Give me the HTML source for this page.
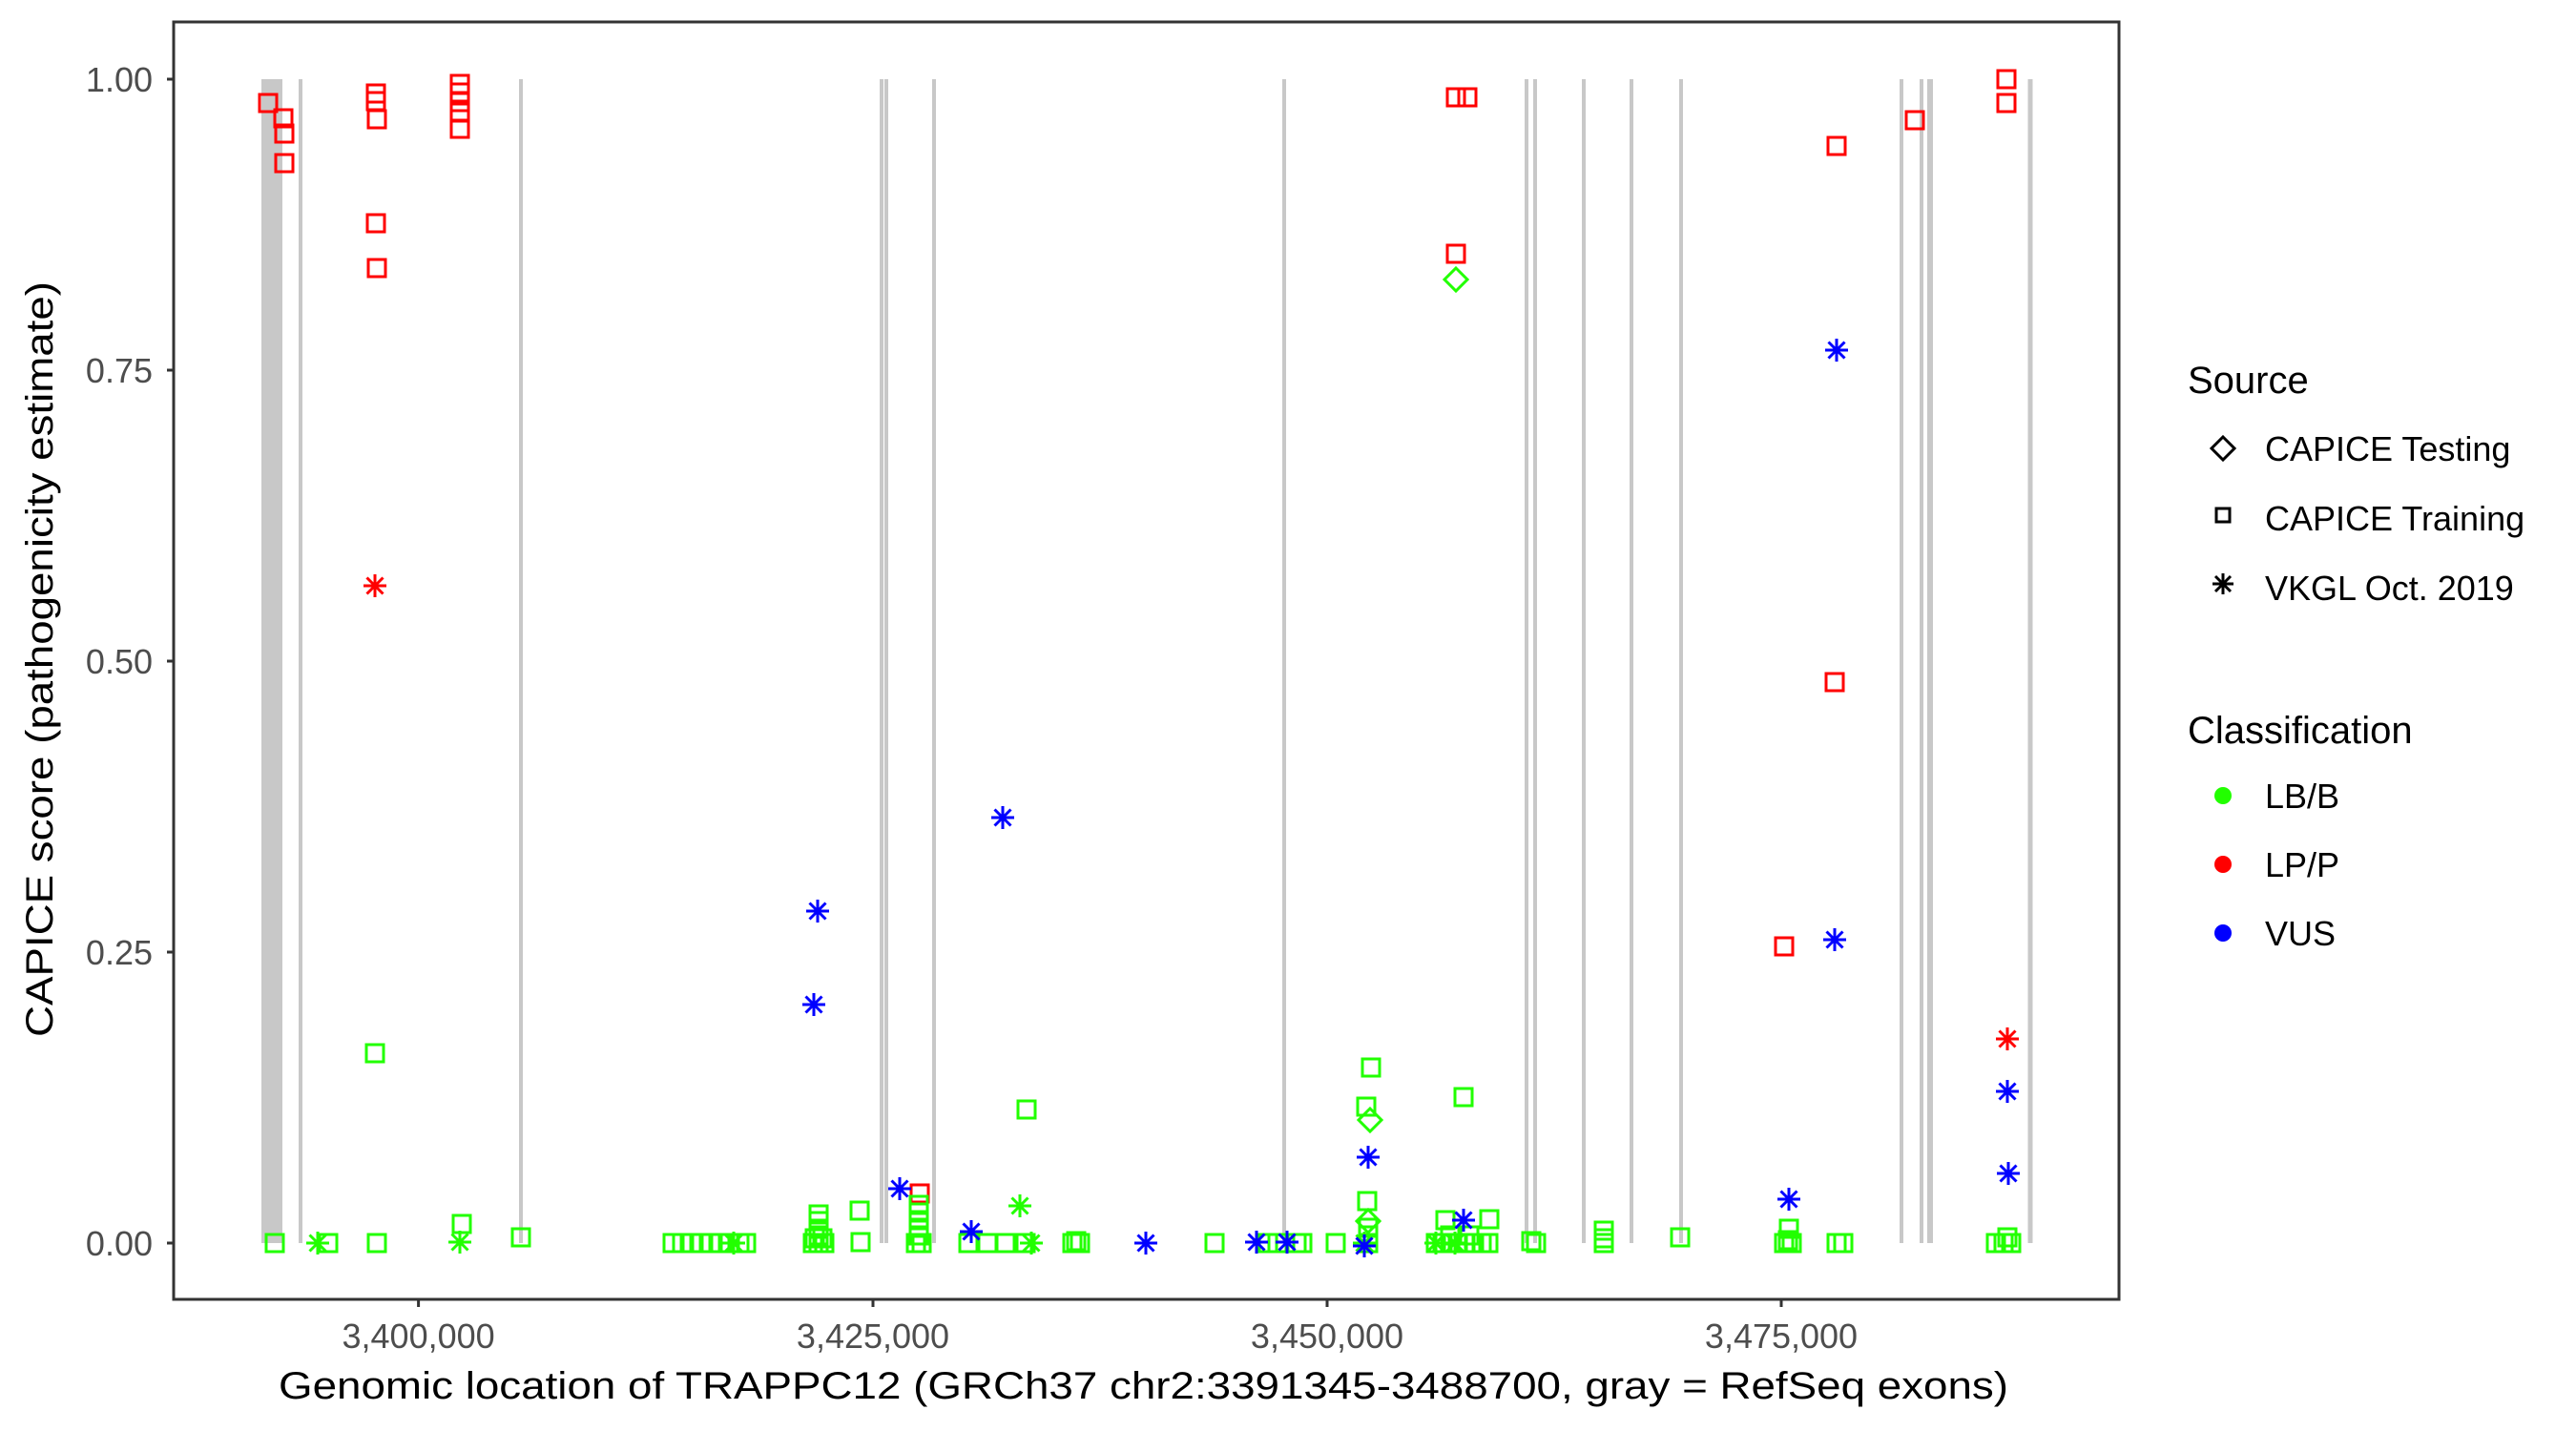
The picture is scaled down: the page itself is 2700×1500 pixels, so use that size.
<!DOCTYPE html>
<html><head><meta charset="utf-8"><style>html,body{margin:0;padding:0;background:#fff}svg{display:block}</style></head>
<body>
<svg width="2700" height="1500" viewBox="0 0 2700 1500" xmlns="http://www.w3.org/2000/svg" font-family="Liberation Sans, sans-serif">
<defs>
<rect id="sq" x="-9" y="-9" width="18" height="18" fill="none" stroke-width="3"/>
<path id="st" d="M-12 0H12M0-12V12M-8.5-8.5L8.5 8.5M-8.5 8.5L8.5-8.5" fill="none" stroke-width="3"/>
<path id="di" d="M0-12L12 0L0 12L-12 0Z" fill="none" stroke-width="3"/>
</defs>
<rect width="2700" height="1500" fill="#fff"/>
<g fill="#c8c8c8">
<rect x="274" y="83" width="22" height="1220"/>
</g>
<g stroke="#c8c8c8" stroke-width="4">
<line x1="315" y1="83" x2="315" y2="1303"/>
<line x1="546" y1="83" x2="546" y2="1303"/>
<line x1="924" y1="83" x2="924" y2="1303"/>
<line x1="929" y1="83" x2="929" y2="1303"/>
<line x1="979" y1="83" x2="979" y2="1303"/>
<line x1="1346" y1="83" x2="1346" y2="1303"/>
<line x1="1600" y1="83" x2="1600" y2="1303"/>
<line x1="1609" y1="83" x2="1609" y2="1303"/>
<line x1="1660" y1="83" x2="1660" y2="1303"/>
<line x1="1710" y1="83" x2="1710" y2="1303"/>
<line x1="1762" y1="83" x2="1762" y2="1303"/>
<line x1="1993" y1="83" x2="1993" y2="1303"/>
<line x1="2014" y1="83" x2="2014" y2="1303"/>
<line x1="2023" y1="83" x2="2023" y2="1303" stroke-width="6"/>
<line x1="2128" y1="83" x2="2128" y2="1303" stroke-width="5"/>
</g>
<g stroke="#ff0000">
<use href="#sq" x="281" y="108"/><use href="#sq" x="297" y="124"/><use href="#sq" x="298" y="140"/><use href="#sq" x="298" y="171"/>
<use href="#sq" x="394" y="98"/><use href="#sq" x="394" y="106"/><use href="#sq" x="395" y="125"/><use href="#sq" x="394" y="234"/><use href="#sq" x="395" y="281"/>
<use href="#sq" x="482" y="88"/><use href="#sq" x="482" y="97"/><use href="#sq" x="482" y="107"/><use href="#sq" x="482" y="118"/><use href="#sq" x="482" y="135"/>
<use href="#sq" x="964" y="1251"/><use href="#sq" x="1526" y="102"/><use href="#sq" x="1538" y="102"/><use href="#sq" x="1526" y="266"/>
<use href="#sq" x="1870" y="992"/><use href="#sq" x="1925" y="153"/><use href="#sq" x="1923" y="715"/><use href="#sq" x="2007" y="126"/>
<use href="#sq" x="2103" y="83"/><use href="#sq" x="2103" y="108"/>
<use href="#st" x="393" y="614"/><use href="#st" x="2104" y="1089"/>
</g>
<g stroke="#22ff00">
<use href="#sq" x="288" y="1303"/><use href="#sq" x="344" y="1303"/><use href="#sq" x="395" y="1303"/><use href="#sq" x="546" y="1297"/><use href="#sq" x="484" y="1283"/><use href="#sq" x="393" y="1104"/>
<use href="#sq" x="705" y="1303"/><use href="#sq" x="715" y="1303"/><use href="#sq" x="725" y="1303"/><use href="#sq" x="735" y="1303"/><use href="#sq" x="745" y="1303"/><use href="#sq" x="755" y="1303"/><use href="#sq" x="765" y="1303"/><use href="#sq" x="775" y="1303"/><use href="#sq" x="782" y="1303"/>
<use href="#sq" x="852" y="1303"/><use href="#sq" x="858" y="1303"/><use href="#sq" x="864" y="1303"/><use href="#sq" x="858" y="1295"/><use href="#sq" x="858" y="1288"/><use href="#sq" x="858" y="1280"/><use href="#sq" x="858" y="1273"/><use href="#sq" x="854" y="1298"/><use href="#sq" x="862" y="1298"/>
<use href="#sq" x="901" y="1269"/><use href="#sq" x="902" y="1302"/>
<use href="#sq" x="960" y="1303"/><use href="#sq" x="966" y="1303"/><use href="#sq" x="963" y="1295"/><use href="#sq" x="963" y="1287"/><use href="#sq" x="963" y="1279"/><use href="#sq" x="963" y="1271"/><use href="#sq" x="963" y="1263"/>
<use href="#sq" x="1015" y="1303"/><use href="#sq" x="1035" y="1303"/><use href="#sq" x="1054" y="1303"/><use href="#sq" x="1075" y="1303"/><use href="#sq" x="1076" y="1163"/>
<use href="#sq" x="1124" y="1303"/><use href="#sq" x="1128" y="1301"/><use href="#sq" x="1132" y="1303"/>
<use href="#sq" x="1273" y="1303"/><use href="#sq" x="1329" y="1303"/><use href="#sq" x="1339" y="1303"/><use href="#sq" x="1359" y="1303"/><use href="#sq" x="1365" y="1303"/><use href="#sq" x="1400" y="1303"/>
<use href="#sq" x="1434" y="1303"/><use href="#sq" x="1434" y="1295"/><use href="#sq" x="1434" y="1287"/><use href="#sq" x="1437" y="1119"/><use href="#sq" x="1432" y="1160"/><use href="#sq" x="1433" y="1259"/>
<use href="#sq" x="1505" y="1303"/><use href="#sq" x="1512" y="1303"/><use href="#sq" x="1520" y="1303"/><use href="#sq" x="1528" y="1303"/><use href="#sq" x="1536" y="1303"/><use href="#sq" x="1545" y="1303"/><use href="#sq" x="1553" y="1303"/><use href="#sq" x="1560" y="1303"/><use href="#sq" x="1515" y="1279"/><use href="#sq" x="1561" y="1278"/><use href="#sq" x="1534" y="1150"/><use href="#sq" x="1520" y="1295"/><use href="#sq" x="1540" y="1295"/>
<use href="#sq" x="1605" y="1301"/><use href="#sq" x="1610" y="1303"/><use href="#sq" x="1681" y="1298"/><use href="#sq" x="1681" y="1290"/><use href="#sq" x="1681" y="1303"/>
<use href="#sq" x="1761" y="1297"/><use href="#sq" x="1874" y="1300"/><use href="#sq" x="1875" y="1288"/><use href="#sq" x="1870" y="1303"/><use href="#sq" x="1878" y="1303"/>
<use href="#sq" x="1925" y="1303"/><use href="#sq" x="1932" y="1303"/>
<use href="#sq" x="2092" y="1303"/><use href="#sq" x="2100" y="1303"/><use href="#sq" x="2108" y="1303"/><use href="#sq" x="2104" y="1297"/>
<use href="#st" x="333" y="1303"/><use href="#st" x="482" y="1302"/><use href="#st" x="769" y="1303"/><use href="#st" x="1069" y="1264"/><use href="#st" x="1081" y="1303"/><use href="#st" x="1430" y="1303"/><use href="#st" x="1505" y="1303"/><use href="#st" x="1525" y="1303"/>
<use href="#di" x="1526" y="293"/><use href="#di" x="1436" y="1174"/><use href="#di" x="1434" y="1280"/>
</g>
<g stroke="#0000ff">
<use href="#st" x="857" y="955"/><use href="#st" x="853" y="1053"/><use href="#st" x="1051" y="857"/><use href="#st" x="943" y="1246"/><use href="#st" x="1018" y="1291"/><use href="#st" x="1201" y="1303"/>
<use href="#st" x="1317" y="1302"/><use href="#st" x="1349" y="1302"/><use href="#st" x="1430" y="1306"/><use href="#st" x="1434" y="1213"/><use href="#st" x="1534" y="1279"/>
<use href="#st" x="1925" y="367"/><use href="#st" x="1923" y="985"/><use href="#st" x="1875" y="1257"/><use href="#st" x="2104" y="1144"/><use href="#st" x="2105" y="1230"/>
</g>
<rect x="182" y="23" width="2039" height="1339" fill="none" stroke="#333" stroke-width="3"/>
<g stroke="#333" stroke-width="3">
<line x1="175" y1="83" x2="182" y2="83"/><line x1="175" y1="388" x2="182" y2="388"/><line x1="175" y1="693" x2="182" y2="693"/><line x1="175" y1="998" x2="182" y2="998"/><line x1="175" y1="1303" x2="182" y2="1303"/>
<line x1="438.6" y1="1362" x2="438.6" y2="1370"/><line x1="915" y1="1362" x2="915" y2="1370"/><line x1="1391" y1="1362" x2="1391" y2="1370"/><line x1="1867" y1="1362" x2="1867" y2="1370"/>
</g>
<g fill="#4d4d4d" font-size="36" text-anchor="end">
<text x="160" y="96">1.00</text><text x="160" y="401">0.75</text><text x="160" y="706">0.50</text><text x="160" y="1011">0.25</text><text x="160" y="1316">0.00</text>
</g>
<g fill="#4d4d4d" font-size="36" text-anchor="middle">
<text x="438.6" y="1413">3,400,000</text><text x="915" y="1413">3,425,000</text><text x="1391" y="1413">3,450,000</text><text x="1867" y="1413">3,475,000</text>
</g>
<text x="292" y="1466" font-size="40" textLength="1813" lengthAdjust="spacingAndGlyphs">Genomic location of TRAPPC12 (GRCh37 chr2:3391345-3488700, gray = RefSeq exons)</text>
<text transform="translate(55,1087) rotate(-90)" font-size="40" textLength="792" lengthAdjust="spacingAndGlyphs">CAPICE score (pathogenicity estimate)</text>
<text x="2293" y="412" font-size="40">Source</text>
<use href="#di" x="2330" y="470" stroke="#000"/>
<rect x="2323" y="533" width="14" height="14" fill="none" stroke="#000" stroke-width="3"/>
<path d="M2319 612H2341M2330 601V623M2322 604L2338 620M2322 620L2338 604" stroke="#000" stroke-width="3"/>
<g font-size="36">
<text x="2374" y="483">CAPICE Testing</text>
<text x="2374" y="556">CAPICE Training</text>
<text x="2374" y="629">VKGL Oct. 2019</text>
</g>
<text x="2293" y="779" font-size="40">Classification</text>
<circle cx="2330" cy="834" r="9" fill="#22ff00"/>
<circle cx="2330" cy="906" r="9" fill="#ff0000"/>
<circle cx="2330" cy="978" r="9" fill="#0000ff"/>
<g font-size="36">
<text x="2374" y="847">LB/B</text>
<text x="2374" y="919">LP/P</text>
<text x="2374" y="991">VUS</text>
</g>
</svg>
</body></html>
